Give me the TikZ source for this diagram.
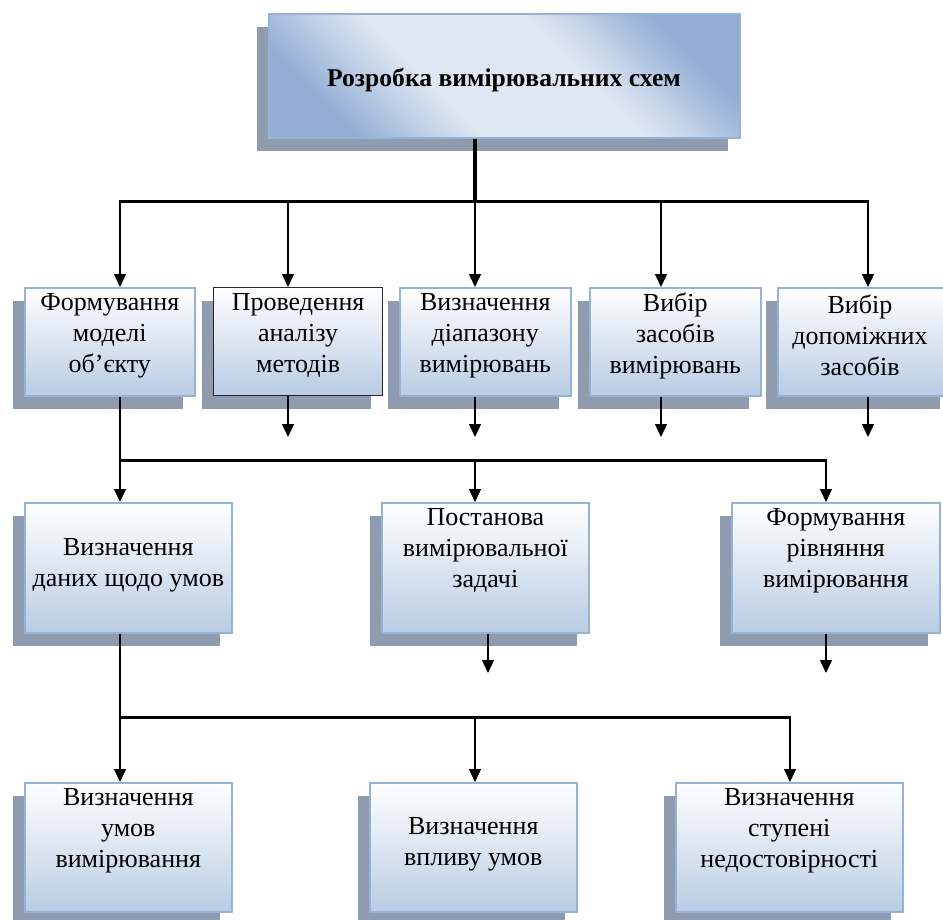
\documentclass[tikz,border=0pt]{standalone}
\usepackage{fontspec}
\setmainfont{Liberation Serif}
\usetikzlibrary{arrows.meta,shadows}
\definecolor{shadowgray}{RGB}{143,155,174}
\definecolor{boxborder}{RGB}{149,179,215}
\definecolor{boxlow}{RGB}{184,204,228}
\definecolor{toplight}{RGB}{222,231,243}
\definecolor{topblue}{RGB}{146,174,212}
\pgfdeclareverticalshading{topshade}{100bp}{color(0bp)=(topblue); color(25bp)=(topblue);
  color(40bp)=(toplight); color(60bp)=(toplight); color(75bp)=(topblue); color(100bp)=(topblue)}
\tikzset{
  shad/.style={drop shadow={shadow xshift=-12pt, shadow yshift=-13pt, fill=shadowgray, opacity=1}},
  bx/.style={draw=boxborder, line width=1.6pt, top color=white, bottom color=boxlow,
    shad, anchor=north west, inner sep=0pt},
  topbx/.style={draw=boxborder, line width=1.6pt, shading=topshade, shading angle=-45, shad,
    anchor=north west, inner sep=0pt},
  lbl/.style={align=center, font=\fontsize{26}{31}\selectfont, inner sep=0pt},
  ttl/.style={align=center, font=\bfseries\fontsize{25.6}{30}\selectfont, inner sep=0pt},
  thin/.style={line width=1.3pt},
  arr/.style={line width=1.3pt, -{Triangle[width=12pt,length=13pt]}},
  bus/.style={line width=3pt},
}
\begin{document}
\begin{tikzpicture}[x=1pt,y=-1pt]
\useasboundingbox (0,0) rectangle (943,919);
\clip (0,0) rectangle (943,919);

% top box
\node[topbx, minimum width=471pt, minimum height=124pt] (top) at (268,13) {};
\node[ttl] (topt) at (504,80) {Розробка вимірювальних схем};

% row 1
\node[bx, minimum width=170pt, minimum height=108pt] (b1) at (24,287) {};
\node[bx, draw=black!85, line width=1.2pt, minimum width=169pt, minimum height=108pt] (b2) at (213,287) {};
\node[bx, minimum width=171pt, minimum height=108pt] (b3) at (399,287) {};
\node[bx, minimum width=171pt, minimum height=108pt] (b4) at (589,287) {};
\node[bx, minimum width=174pt, minimum height=108pt] (b5) at (777,287) {};
\node[lbl] (b1t) at ([yshift=6pt]b1.center) {Формування\\моделі\\об’єкту};
\node[lbl] (b2t) at ([yshift=6pt]b2.center) {Проведення\\аналізу\\методів};
\node[lbl] (b3t) at ([yshift=6pt]b3.center) {Визначення\\діапазону\\вимірювань};
\node[lbl] (b4t) at ([yshift=6pt]b4.center) {Вибір\\засобів\\вимірювань};
\node[lbl] (b5t) at (860,335) {Вибір\\допоміжних\\засобів};

% row 2
\node[bx, minimum width=207pt, minimum height=130pt] (c1) at (24,502) {};
\node[bx, minimum width=207pt, minimum height=130pt] (c2) at (381,502) {};
\node[bx, minimum width=208pt, minimum height=130pt] (c3) at (731,502) {};
\node[lbl] (c1t) at ([yshift=3pt]c1.center) {Визначення\\даних щодо умов};
\node[lbl] (c2t) at ([yshift=17pt]c2.center) {Постанова\\вимірювальної\\задачі};
\node[lbl] (c3t) at ([yshift=17pt]c3.center) {Формування\\рівняння\\вимірювання};

% row 3
\node[bx, minimum width=207pt, minimum height=129pt] (d1) at (24,782) {};
\node[bx, minimum width=207pt, minimum height=129pt] (d2) at (369,782) {};
\node[bx, minimum width=227pt, minimum height=129pt] (d3) at (675,782) {};
\node[lbl] (d1t) at ([yshift=17pt]d1.center) {Визначення\\умов\\вимірювання};
\node[lbl] (d2t) at ([yshift=3pt]d2.center) {Визначення\\впливу умов};
\node[lbl] (d3t) at ([yshift=17pt]d3.center) {Визначення\\ступені\\недостовірності};

% connectors level 1
\coordinate (j0) at (475,201);
\coordinate (j1) at (120,201);
\coordinate (j2) at (288,201);
\coordinate (j3) at (661,201);
\coordinate (j4) at (868,201);
\draw[line width=3.5pt] (top.south -| j0) -- (j0);
\draw[bus] ([xshift=-0.6pt]j1) -- ([xshift=0.6pt]j4);
\draw[arr] (j1) -- (j1 |- b1.north);
\draw[arr] (j2) -- (j2 |- b2.north);
\draw[arr] (j0) -- (j0 |- b3.north);
\draw[arr] (j3) -- (j3 |- b4.north);
\draw[arr] (j4) -- (j4 |- b5.north);

% free arrows under row 1
\coordinate (e2) at (288,437);
\coordinate (e3) at (475,437);
\coordinate (e4) at (661,437);
\coordinate (e5) at (868,437);
\draw[arr] (e2 |- b2.south) -- (e2);
\draw[arr] (e3 |- b3.south) -- (e3);
\draw[arr] (e4 |- b4.south) -- (e4);
\draw[arr] (e5 |- b5.south) -- (e5);

% connectors level 2
\coordinate (k1) at (120,460);
\coordinate (k2) at (475,460);
\coordinate (k3) at (826,460);
\draw[thin] (k1 |- b1.south) -- (k1);
\draw[bus] ([xshift=-0.6pt]k1) -- ([xshift=0.6pt]k3);
\draw[arr] (k1) -- (k1 |- c1.north);
\draw[arr] (k2) -- (k2 |- c2.north);
\draw[arr] (k3) -- (k3 |- c3.north);

% free arrows under row 2
\coordinate (f2) at (488,673);
\coordinate (f3) at (826,673);
\draw[arr] (f2 |- c2.south) -- (f2);
\draw[arr] (f3 |- c3.south) -- (f3);

% connectors level 3
\coordinate (m1) at (120,717);
\coordinate (m2) at (475,717);
\coordinate (m3) at (790,717);
\draw[thin] (m1 |- c1.south) -- (m1);
\draw[bus] ([xshift=-0.6pt]m1) -- ([xshift=0.6pt]m3);
\draw[arr] (m1) -- (m1 |- d1.north);
\draw[arr] (m2) -- (m2 |- d2.north);
\draw[arr] (m3) -- (m3 |- d3.north);
\end{tikzpicture}
\end{document}
